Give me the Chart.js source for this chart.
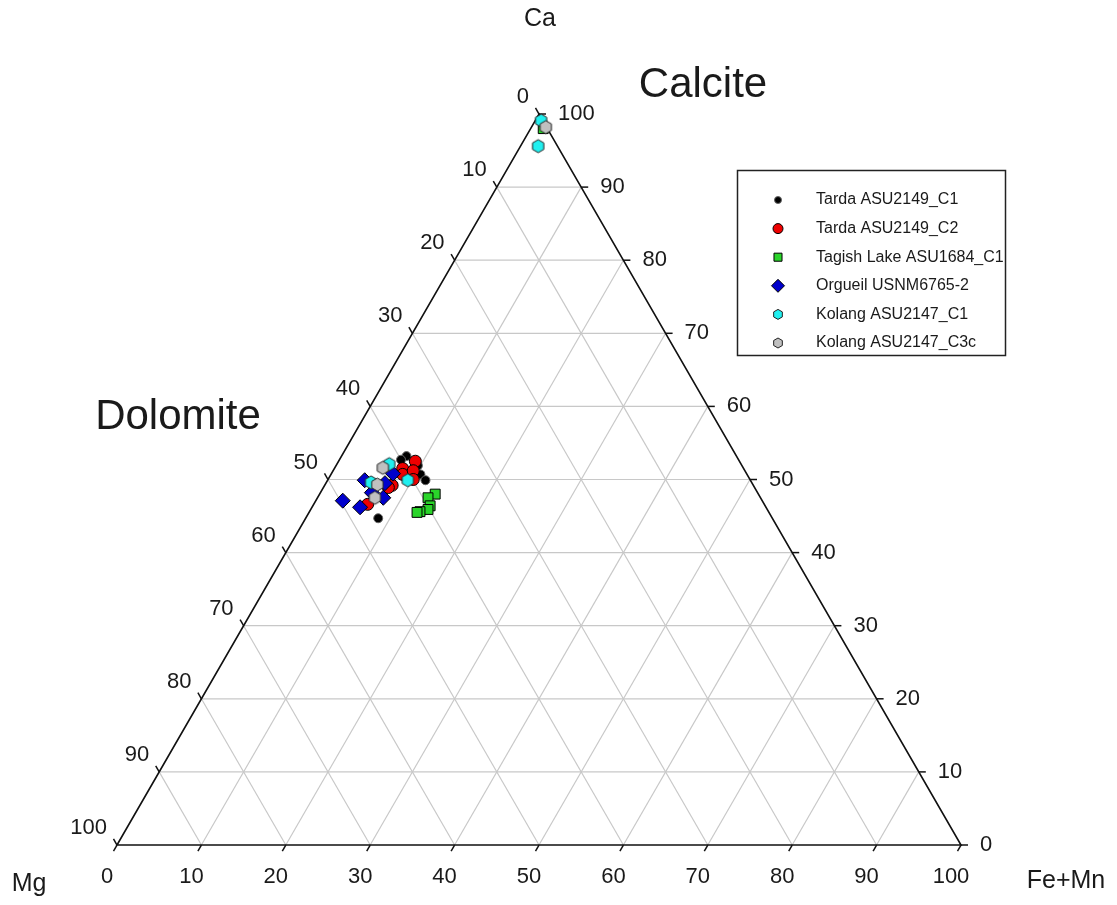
<!DOCTYPE html>
<html lang="en">
<head>
  <meta charset="UTF-8" />
  <title>Carbonate compositions Ca - Mg - Fe+Mn</title>
  <script src="https://cdn.jsdelivr.net/npm/chart.js"></script>
  <style>
    body {
      margin: 0;
      padding: 0;
      background: white;
    }
    canvas {
      display: block;
    }
  </style>
</head>
<body>
  <canvas id="ternChart" width="1117" height="905"></canvas>

  <script>
    // each point: [Ca, Mg, Fe+Mn] in mol %
    const tardaC1 = [
      [53.2, 39.1, 7.7], [51.9, 38.4, 9.7], [50.7, 38.7, 10.6],
      [49.9, 38.5, 11.6], [44.7, 46.7, 8.6], [52.7, 40.0, 7.3]
    ];
    const tardaC2 = [
      [52.5, 38.4, 9.1], [51.5, 40.4, 8.1], [50.7, 40.8, 8.5], [51.2, 39.3, 9.5],
      [50.0, 39.9, 10.1], [49.2, 42.8, 8.0], [48.9, 43.4, 7.7], [46.6, 47.0, 6.4]
    ];
    const tagishC1 = [
      [48.0, 38.3, 13.7], [47.5, 39.4, 13.1], [46.4, 39.7, 13.9],
      [45.9, 40.2, 13.9], [45.6, 41.3, 13.1], [45.5, 41.7, 12.8], [98.0, 0.5, 1.5]
    ];
    const orgueil = [
      [50.8, 41.9, 7.3], [49.9, 45.7, 4.4], [49.5, 43.5, 7.0], [47.1, 49.7, 3.2],
      [46.2, 48.1, 5.7], [47.5, 44.7, 7.8], [48.2, 45.7, 6.1]
    ];
    const kolangC1 = [
      [52.1, 41.7, 6.2], [49.9, 40.6, 9.5], [49.6, 45.1, 5.3],
      [99.1, 0.2, 0.7], [95.6, 2.3, 2.1]
    ];
    const kolangC3c = [
      [51.6, 42.7, 5.7], [49.3, 44.5, 6.2], [47.5, 45.7, 6.8], [98.2, 0.1, 1.7]
    ];

    const seriesNames = [
      'Tarda ASU2149_C1',
      'Tarda ASU2149_C2',
      'Tagish Lake ASU1684_C1',
      'Orgueil USNM6765-2',
      'Kolang ASU2147_C1',
      'Kolang ASU2147_C3c'
    ];
    const tickValues = [0, 10, 20, 30, 40, 50, 60, 70, 80, 90, 100];

    const H = Math.sqrt(3) / 2;
    const FONT = '"Liberation Sans", Arial, sans-serif';
    const TEXT = '#1a1a1a';

    // ternary -> cartesian (Mg corner at 0,0, Fe+Mn at 100,0, Ca on top)
    function toXY(p) {
      return { x: p[2] + p[0] / 2, y: p[0] * H };
    }

    function makeHex(r, fill) {
      const c = document.createElement('canvas');
      const s = Math.ceil(2 * r + 4);
      c.width = s;
      c.height = s;
      const g = c.getContext('2d');
      g.beginPath();
      for (let i = 0; i < 6; i++) {
        const a = -Math.PI / 2 + i * Math.PI / 3;
        const px = s / 2 + r * Math.cos(a);
        const py = s / 2 + r * Math.sin(a);
        if (i === 0) g.moveTo(px, py); else g.lineTo(px, py);
      }
      g.closePath();
      g.fillStyle = fill;
      g.fill();
      g.lineWidth = 1;
      g.strokeStyle = '#222';
      g.stroke();
      return c;
    }

    const styles = [
      { shape: 'circle', fill: '#000000', border: '#666666', r: 4.5, lr: 3.5 },
      { shape: 'circle', fill: '#ee0000', border: '#000000', r: 6, lr: 5 },
      { shape: 'rect', fill: '#2ad42a', border: '#000000', r: 7, lr: 5.7 },
      { shape: 'rectRot', fill: '#0000cc', border: '#000000', r: 7.5, lr: 6.5 },
      { shape: 'hex', fill: '#20f0f0', border: '#222222', r: 6.5, lr: 5 },
      { shape: 'hex', fill: '#c0c0c0', border: '#222222', r: 6.5, lr: 5 }
    ];
    const seriesData = [tardaC1, tardaC2, tagishC1, orgueil, kolangC1, kolangC3c];

    const datasets = seriesData.map((arr, i) => {
      const st = styles[i];
      return {
        label: seriesNames[i],
        data: arr.map(toXY),
        pointStyle: st.shape === 'hex' ? makeHex(st.r, st.fill) : st.shape,
        pointRadius: st.r,
        pointBackgroundColor: st.fill,
        pointBorderColor: st.border,
        pointBorderWidth: 1,
        showLine: false,
        clip: false,
        order: seriesData.length - i
      };
    });

    function drawMarker(ctx, st, x, y) {
      const r = st.lr;
      ctx.save();
      ctx.fillStyle = st.fill;
      ctx.strokeStyle = st.border;
      ctx.lineWidth = 1;
      ctx.beginPath();
      if (st.shape === 'circle') {
        ctx.arc(x, y, r, 0, Math.PI * 2);
      } else if (st.shape === 'rect') {
        const s = r * Math.SQRT1_2;
        ctx.rect(x - s, y - s, 2 * s, 2 * s);
      } else if (st.shape === 'rectRot') {
        ctx.moveTo(x, y - r);
        ctx.lineTo(x + r, y);
        ctx.lineTo(x, y + r);
        ctx.lineTo(x - r, y);
        ctx.closePath();
      } else {
        for (let i = 0; i < 6; i++) {
          const a = -Math.PI / 2 + i * Math.PI / 3;
          const px = x + r * Math.cos(a);
          const py = y + r * Math.sin(a);
          if (i === 0) ctx.moveTo(px, py); else ctx.lineTo(px, py);
        }
        ctx.closePath();
      }
      ctx.fill();
      ctx.stroke();
      ctx.restore();
    }

    const ternaryFrame = {
      id: 'ternaryFrame',
      beforeDatasetsDraw(chart) {
        const ctx = chart.ctx;
        const xs = chart.scales.x;
        const ys = chart.scales.y;
        // ca and fe in %, mg is the rest
        const pt = (ca, fe) => {
          const p = toXY([ca, 100 - ca - fe, fe]);
          return [xs.getPixelForValue(p.x), ys.getPixelForValue(p.y)];
        };
        const line = (a, b) => {
          ctx.beginPath();
          ctx.moveTo(a[0], a[1]);
          ctx.lineTo(b[0], b[1]);
          ctx.stroke();
        };

        ctx.save();
        // grid
        ctx.strokeStyle = '#c8c8c8';
        ctx.lineWidth = 1.2;
        tickValues.slice(1, -1).forEach(v => {
          line(pt(v, 0), pt(v, 100 - v));         // Ca = v
          line(pt(0, v), pt(100 - v, v));         // Fe+Mn = v
          line(pt(0, 100 - v), pt(100 - v, 0));   // Mg = v
        });

        // outline
        const mgCorner = pt(0, 0), caCorner = pt(100, 0), feCorner = pt(0, 100);
        ctx.strokeStyle = '#111';
        ctx.lineWidth = 1.6;
        ctx.beginPath();
        ctx.moveTo(mgCorner[0], mgCorner[1]);
        ctx.lineTo(caCorner[0], caCorner[1]);
        ctx.lineTo(feCorner[0], feCorner[1]);
        ctx.closePath();
        ctx.stroke();

        // ticks and tick labels
        const tl = 7;
        ctx.lineWidth = 1.5;
        ctx.fillStyle = TEXT;
        ctx.font = '22px ' + FONT;
        ctx.textBaseline = 'middle';
        tickValues.forEach(v => {
          // bottom: Fe+Mn
          let p = pt(0, v);
          line(p, [p[0] - tl * 0.5, p[1] + tl * H]);
          ctx.textAlign = 'center';
          ctx.fillText(String(v), p[0] - 10, p[1] + 32);

          // right: Ca
          p = pt(v, 100 - v);
          line(p, [p[0] + tl, p[1]]);
          ctx.textAlign = 'left';
          ctx.fillText(String(v), p[0] + 19, p[1]);

          // left: Mg
          p = pt(100 - v, 0);
          line(p, [p[0] - tl * 0.5, p[1] - tl * H]);
          ctx.textAlign = 'right';
          ctx.fillText(String(v), p[0] - 10, p[1] - 17);
        });

        // corner names
        ctx.font = '25px ' + FONT;
        ctx.textAlign = 'center';
        ctx.fillText('Ca', caCorner[0] + 1, caCorner[1] - 95);
        ctx.fillText('Mg', mgCorner[0] - 88, mgCorner[1] + 39);
        ctx.fillText('Fe+Mn', feCorner[0] + 105, feCorner[1] + 36);

        // mineral names
        ctx.font = '42px ' + FONT;
        ctx.fillText('Calcite', 703, 85);
        ctx.fillText('Dolomite', 178, 417);
        ctx.restore();
      },
      afterDatasetsDraw(chart) {
        const ctx = chart.ctx;
        ctx.save();
        ctx.fillStyle = 'white';
        ctx.fillRect(737, 170, 268, 185);
        ctx.strokeStyle = '#222';
        ctx.lineWidth = 1.5;
        ctx.strokeRect(737.5, 170.5, 268, 185);
        ctx.font = '16px ' + FONT;
        ctx.textAlign = 'left';
        ctx.textBaseline = 'middle';
        seriesNames.forEach((name, i) => {
          const y = 200 + i * 28.6;
          drawMarker(ctx, styles[i], 778, y);
          ctx.fillStyle = TEXT;
          ctx.fillText(name, 816, y);
        });
        ctx.restore();
      }
    };

    new Chart(document.getElementById('ternChart'), {
      type: 'scatter',
      data: { datasets },
      options: {
        responsive: false,
        animation: false,
        devicePixelRatio: 1,
        layout: {
          padding: { left: 117, right: 156, top: 114, bottom: 60 }
        },
        scales: {
          x: { type: 'linear', min: 0, max: 100, display: false },
          y: { type: 'linear', min: 0, max: 100 * H, display: false }
        },
        plugins: {
          legend: { display: false },
          tooltip: { enabled: false }
        }
      },
      plugins: [ternaryFrame]
    });
  </script>
</body>
</html>
